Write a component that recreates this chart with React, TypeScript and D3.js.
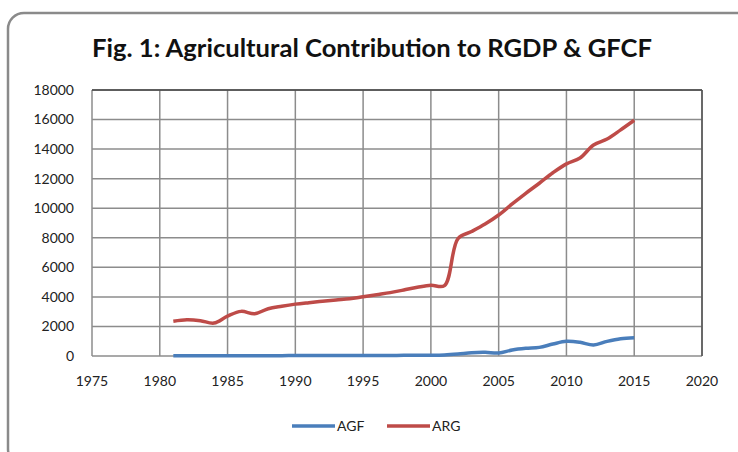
import React, { useRef, useEffect } from "react";
import * as d3 from "d3";

const years = [
  1981, 1982, 1983, 1984, 1985, 1986, 1987, 1988, 1989, 1990, 1991, 1992,
  1993, 1994, 1995, 1996, 1997, 1998, 1999, 2000, 2001, 2002, 2003, 2004,
  2005, 2006, 2007, 2008, 2009, 2010, 2011, 2012, 2013, 2014, 2015,
];

// Agricultural contribution to GFCF
const agf = [
  20, 20, 20, 20, 20, 25, 25, 25, 25, 30, 30, 30, 30, 35, 35, 40, 40, 45, 50,
  50, 70, 135, 225, 250, 200, 405, 520, 585, 810, 990, 925, 745, 990, 1170,
  1240,
];

// Agricultural contribution to RGDP
const arg = [
  2350, 2450, 2390, 2230, 2700, 3020, 2860, 3200, 3370, 3510, 3610, 3700,
  3790, 3870, 4010, 4150, 4290, 4470, 4650, 4790, 4760, 7950, 8420, 8930,
  9540, 10290, 11010, 11690, 12400, 13000, 13400, 14280, 14680, 15300, 15950,
];

const xTicks = [1975, 1980, 1985, 1990, 1995, 2000, 2005, 2010, 2015, 2020];
const yTicks = [0, 2000, 4000, 6000, 8000, 10000, 12000, 14000, 16000, 18000];

const seriesNames = ["AGF", "ARG"];
const seriesColors = ["#4A7EBB", "#BE4B48"];

const App = () => {
  const ref = useRef<SVGSVGElement>(null);

  useEffect(() => {
    const svg = d3.select(ref.current);
    svg.selectAll("*").remove();

    const width = 738;
    const height = 452;
    const margin = { left: 92, right: 36, top: 90, bottom: 96 };

    svg.attr("width", width).attr("height", height);

    // outer chart frame (right and bottom edges run off the picture)
    svg
      .append("rect")
      .attr("x", 8)
      .attr("y", 13)
      .attr("width", 760)
      .attr("height", 452)
      .attr("rx", 16)
      .attr("fill", "#fff")
      .attr("stroke", "#8a8a8a")
      .attr("stroke-width", 2.5);

    svg
      .append("text")
      .attr("x", 92)
      .attr("y", 57)
      .attr("textLength", 560)
      .attr("lengthAdjust", "spacingAndGlyphs")
      .style("font-family", "Lato, 'Open Sans', sans-serif")
      .style("font-weight", "bold")
      .style("font-size", "25px")
      .style("fill", "#111")
      .text("Fig. 1: Agricultural Contribution to RGDP & GFCF");

    const x = d3
      .scaleLinear()
      .domain([1975, 2020])
      .range([margin.left, width - margin.right]);
    const y = d3
      .scaleLinear()
      .domain([0, 18000])
      .range([height - margin.bottom, margin.top]);

    const g = svg.append("g");

    // gridlines
    g.selectAll(".hgrid")
      .data(yTicks)
      .enter()
      .append("line")
      .attr("x1", x(1975))
      .attr("x2", x(2020))
      .attr("y1", (d) => y(d))
      .attr("y2", (d) => y(d))
      .attr("stroke", "#8c8c8c")
      .attr("stroke-width", 1.5);

    g.selectAll(".vgrid")
      .data(xTicks)
      .enter()
      .append("line")
      .attr("x1", (d) => x(d))
      .attr("x2", (d) => x(d))
      .attr("y1", y(0))
      .attr("y2", y(18000))
      .attr("stroke", "#8c8c8c")
      .attr("stroke-width", 1.5);

    // plot border (top and right darker)
    g.append("line")
      .attr("x1", x(1975))
      .attr("x2", x(2020))
      .attr("y1", y(18000))
      .attr("y2", y(18000))
      .attr("stroke", "#444")
      .attr("stroke-width", 1.5);
    g.append("line")
      .attr("x1", x(2020))
      .attr("x2", x(2020))
      .attr("y1", y(0))
      .attr("y2", y(18000))
      .attr("stroke", "#555")
      .attr("stroke-width", 1.5);

    const tickFont = "Lato, 'Open Sans', sans-serif";

    g.selectAll(".ylab")
      .data(yTicks)
      .enter()
      .append("text")
      .attr("x", 74)
      .attr("y", (d) => y(d))
      .attr("dy", "0.35em")
      .attr("text-anchor", "end")
      .style("font-family", tickFont)
      .style("font-size", "14px")
      .style("fill", "#222")
      .text((d) => String(d));

    g.selectAll(".xlab")
      .data(xTicks)
      .enter()
      .append("text")
      .attr("x", (d) => x(d))
      .attr("y", 386)
      .attr("text-anchor", "middle")
      .style("font-family", tickFont)
      .style("font-size", "14px")
      .style("fill", "#222")
      .text((d) => String(d));

    const line = d3
      .line<number>()
      .x((_, i) => x(years[i]))
      .y((d) => y(d))
      .curve(d3.curveCatmullRom.alpha(0.5));

    [agf, arg].forEach((vals, i) => {
      g.append("path")
        .datum(vals)
        .attr("d", line)
        .attr("fill", "none")
        .attr("stroke", seriesColors[i])
        .attr("stroke-width", 3.5)
        .attr("stroke-linejoin", "round");
    });

    // legend
    const legendX = [292, 387];
    seriesNames.forEach((name, i) => {
      const lg = svg.append("g");
      lg.append("line")
        .attr("x1", legendX[i])
        .attr("x2", legendX[i] + 43)
        .attr("y1", 426)
        .attr("y2", 426)
        .attr("stroke", seriesColors[i])
        .attr("stroke-width", 3.5);
      lg.append("text")
        .attr("x", legendX[i] + 45)
        .attr("y", 426)
        .attr("dy", "0.35em")
        .style("font-family", tickFont)
        .style("font-size", "14px")
        .style("fill", "#222")
        .text(name);
    });
  }, []);

  return (
    <div style={{ position: "absolute", left: 0, top: 0 }}>
      <svg ref={ref} />
    </div>
  );
};

export default App;
